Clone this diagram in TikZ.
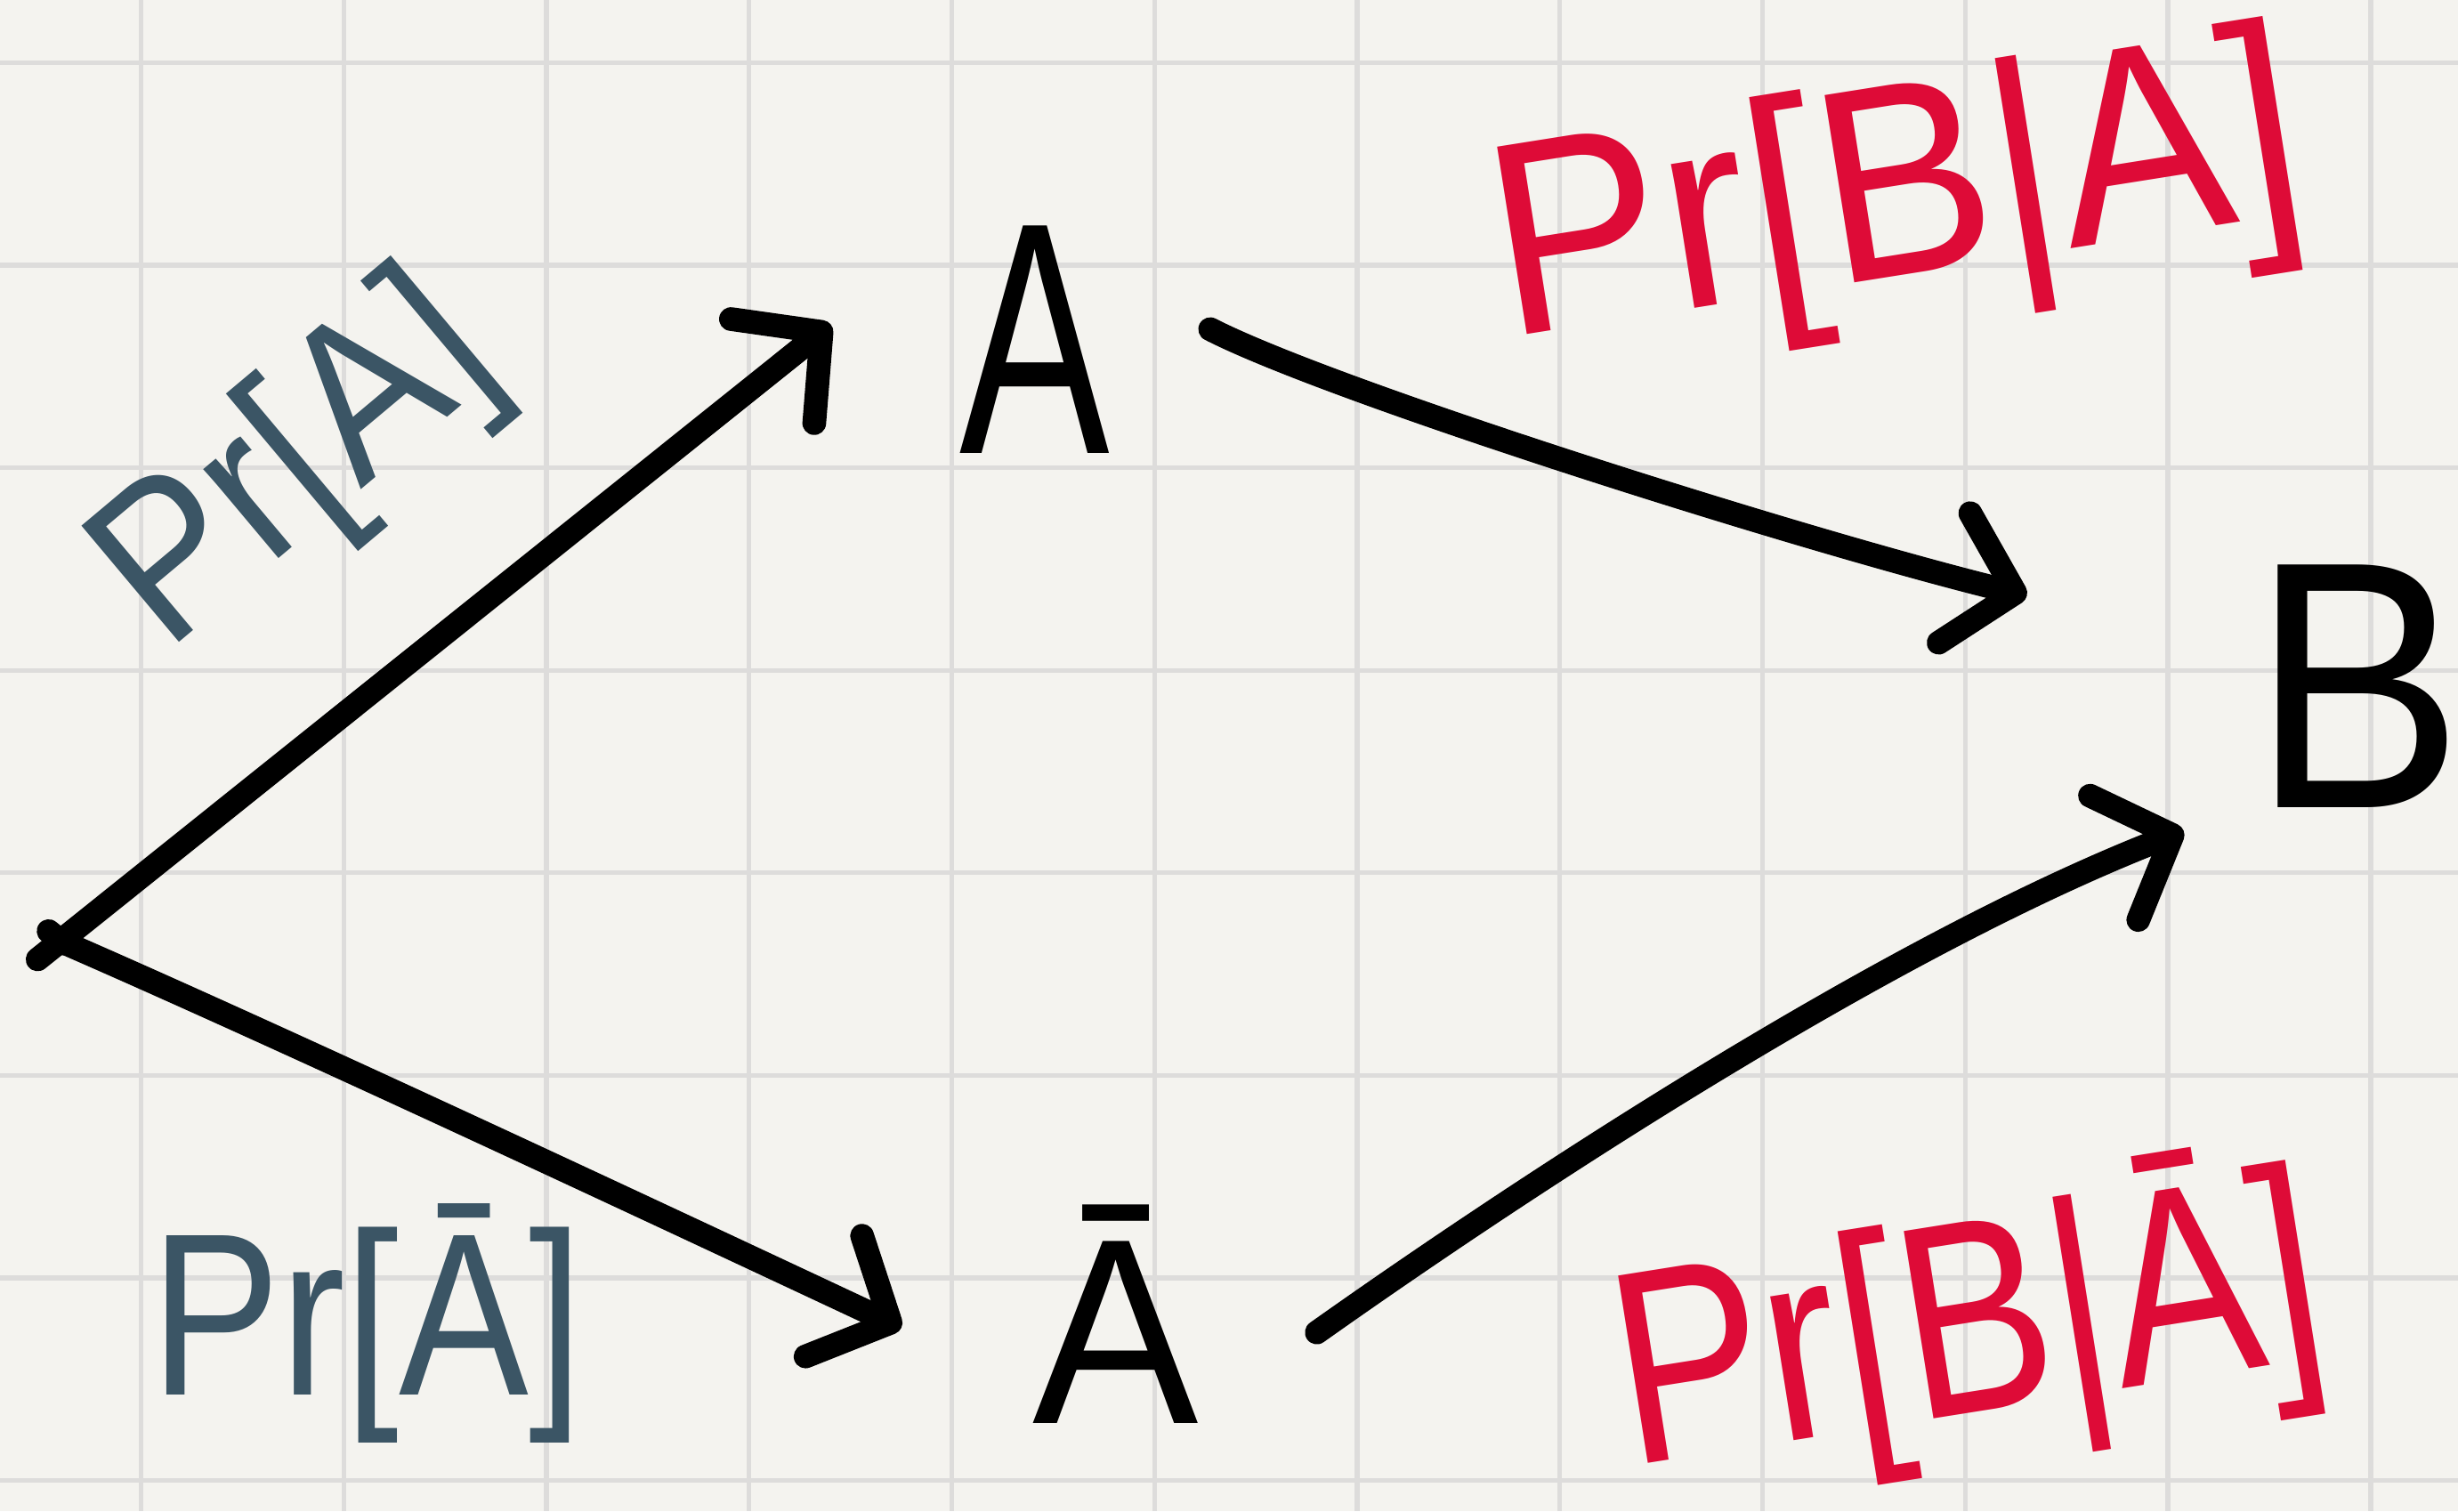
\documentclass[tikz,border=0pt]{standalone}
\usepackage{fontspec}
\setmainfont{Liberation Sans}
\usepackage{graphicx}
\usetikzlibrary{arrows.meta}

\definecolor{paper}{HTML}{F4F3EF}
\definecolor{gridline}{HTML}{DDDCDB}
\definecolor{prred}{HTML}{DE0B37}
\definecolor{prslate}{HTML}{3B5565}

\tikzset{
  arr/.style={line width=4.3pt, line cap=round, line join=round,
    -{Straight Barb[length=0.40cm,width=0.85cm,round]}},
  plainstroke/.style={line width=4.3pt, line cap=round},
  event/.style={inner sep=0pt, anchor=base},
  redlbl/.style={inner sep=0pt, anchor=base, text=prred},
  slatelbl/.style={inner sep=0pt, anchor=base, text=prslate},
}

\begin{document}
\begin{tikzpicture}[x=0.01cm, y=-0.01cm]
  % paper and squared grid
  \useasboundingbox (0,0) rectangle (1568,964);
  \fill[paper] (0,0) rectangle (1568,964);
  \foreach \k in {0,...,11}
    \draw[gridline, line width=0.85pt] ({90+129.3*\k},0) -- ({90+129.3*\k},964);
  \foreach \k in {0,...,7}
    \draw[gridline, line width=0.85pt] (0,{40+129.2*\k}) -- (1568,{40+129.2*\k});

  % events
  \coordinate (O) at (40,601);
  \node[event, font=\fontsize{60}{60}\selectfont] (A) at (660,289) {\scalebox{0.68}[1]{A}};
  \node[event, font=\fontsize{64}{64}\selectfont] (B) at (1504,515) {\scalebox{0.9}[1]{B}};
  \node[event, font=\fontsize{48}{48}\selectfont] (Ab) at (712,908) {\scalebox{0.94}[1]{Ā}};

  % probabilities on the branches
  \node[slatelbl, rotate=40, font=\fontsize{40}{40}\selectfont] (pA) at (214,326) {\scalebox{0.9}[1]{Pr[A]}};
  \node[slatelbl, font=\fontsize{42}{42}\selectfont] (pAb) at (234,890) {\scalebox{0.84}[1]{Pr[Ā]}};
  \node[redlbl, rotate=9, font=\fontsize{50}{50}\selectfont] (pBA) at (1218,175) {\scalebox{0.94}[1]{Pr[B|A]}};
  \node[redlbl, rotate=9, font=\fontsize{50}{50}\selectfont] (pBAb) at (1264,900) {\scalebox{0.82}[1]{Pr[B|Ā]}};

  % root mark
  \draw[plainstroke] ([shift={(-9,-7)}]O) -- ([shift={(1,1)}]O);

  % branches from the root
  \draw[arr] ([shift={(-16,11)}]O) -- ([shift={(-130,-82)}]A.base);
  \draw[arr] (O) .. controls (180,662) and (400,765) .. ([shift={(-137,-61)}]Ab.base);

  % branches into B
  \draw[arr] ([shift={(112,-79)}]A.base) .. controls (850,250) and (1150,345) .. ([shift={(-211,-135)}]B.base);
  \draw[arr] ([shift={(128,-58)}]Ab.base) .. controls (960,765) and (1200,605) .. ([shift={(-111,15)}]B.base);
\end{tikzpicture}
\end{document}
